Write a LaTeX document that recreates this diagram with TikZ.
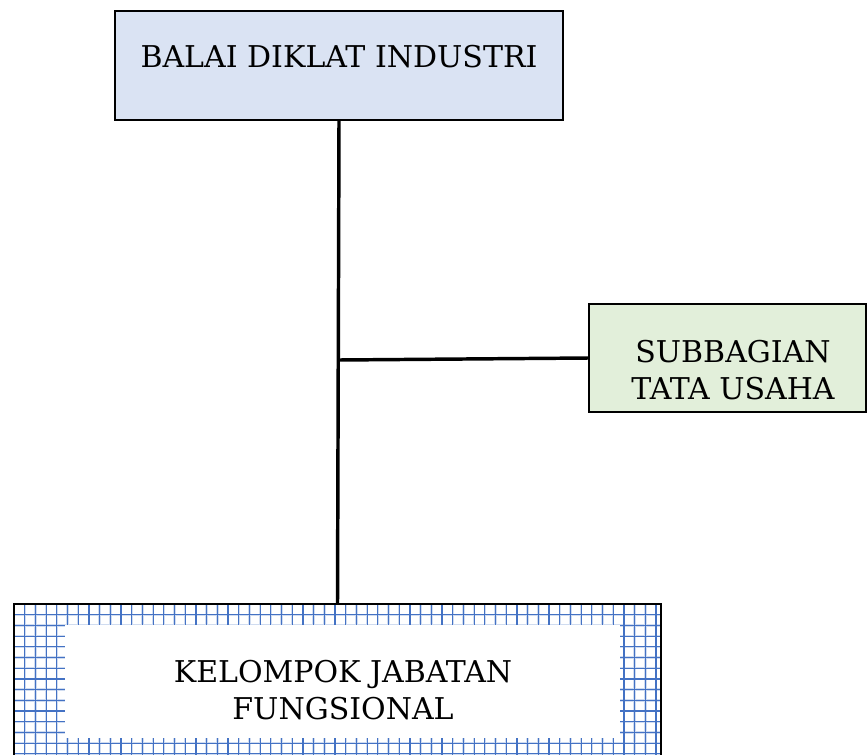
\documentclass[tikz,border=0pt]{standalone}
\usepackage{fontspec}
\setmainfont{DejaVu Serif}
\definecolor{topfill}{RGB}{218,227,243}
\definecolor{subfill}{RGB}{226,239,218}
\definecolor{gridblue}{RGB}{68,114,196}
\begin{document}
\begin{tikzpicture}[x=0.75pt,y=-0.75pt,
  box/.style={draw=black,line width=1.6pt,inner sep=0pt},
  conn/.style={draw=black,line width=2.6pt},
  lbl/.style={font=\fontsize{22.5}{28}\selectfont,align=center}]
\useasboundingbox (0,0) rectangle (867,754);
% top box
\node[box,fill=topfill,minimum width=448*0.75pt,minimum height=109*0.75pt] (top) at (339,65.5) {};
\node[lbl] (toptext) at (339,57) {BALAI DIKLAT INDUSTRI};
% subbagian box
\node[box,fill=subfill,minimum width=277*0.75pt,minimum height=108*0.75pt] (sub) at (727.5,358) {};
\node[lbl] (subtext) at (733,370) {SUBBAGIAN\\TATA USAHA};
% kelompok box with grid pattern
\begin{scope}
\clip (14,604) rectangle (661,770);
\fill[white] (14,604) rectangle (661,770);
\foreach \i in {0,...,62} {
  \draw[gridblue!25,line width=1.8pt] ({14+10.7*\i},600) -- ({14+10.7*\i},770);
}
\foreach \j in {0,...,16} {
  \draw[gridblue!25,line width=1.8pt] (10,{604+10.7*\j}) -- (665,{604+10.7*\j});
}
\foreach \i in {0,...,62} {
  \draw[gridblue,line width=0.9pt] ({14+10.7*\i},600) -- ({14+10.7*\i},770);
}
\foreach \j in {0,...,16} {
  \draw[gridblue,line width=0.9pt] (10,{604+10.7*\j}) -- (665,{604+10.7*\j});
}
\fill[white] (65,625) rectangle (620,738);
\end{scope}
\node[box,minimum width=647*0.75pt,minimum height=166*0.75pt] (kel) at (337.5,687) {};
\node[lbl] (keltext) at (343,690) {KELOMPOK JABATAN\\FUNGSIONAL};
% connectors
\coordinate (j) at (338.5,360);
\draw[conn] (top.south) -- (kel.north);
\draw[conn] (j) -- (sub.west);
\end{tikzpicture}
\end{document}
